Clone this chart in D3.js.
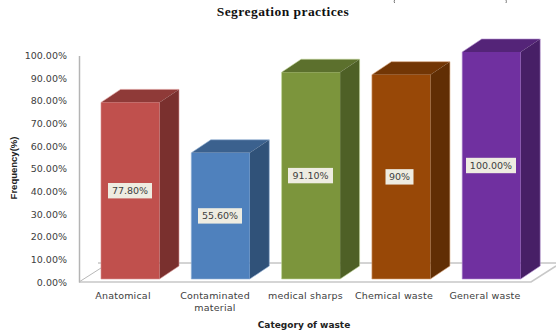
<!DOCTYPE html>
<html>
<head>
<meta charset="utf-8">
<script src="https://cdn.jsdelivr.net/npm/d3@7"></script>
<style>
html,body{margin:0;padding:0;background:#fff}
svg{display:block}
</style>
</head>
<body>
<script>
const categories = ["Anatomical", "Contaminated material", "medical sharps", "Chemical waste", "General waste"];
const categoryLines = [["Anatomical"], ["Contaminated", "material"], ["medical sharps"], ["Chemical waste"], ["General waste"]];
const values = [77.8, 55.6, 91.1, 90, 100];
const valueLabels = ["77.80%", "55.60%", "91.10%", "90%", "100.00%"];
const labelBoxWidths = [44, 44, 45, 28, 50];
const labelCenters = [130, 220, 310.5, 399.5, 491];
const frontColors = ["#c0504d", "#4f81bd", "#7c953c", "#984807", "#7030a0"];
const topColors = ["#8f3a38", "#3b618e", "#5c702d", "#723605", "#542478"];
const sideColors = ["#7a302e", "#305279", "#4e6026", "#612e04", "#471f66"];
const edgeColors = ["#d99694", "#95b3d7", "#c3d69b", "#d9a47a", "#b38fd0"];
const yTicks = [0, 10, 20, 30, 40, 50, 60, 70, 80, 90, 100];
const categoryCenters = [123, 215, 305.5, 394, 485];

const width = 556, height = 331;
const depthX = 19.5, depthY = 13;
const sans = "DejaVu Sans";

const svg = d3.select("body").append("svg")
  .attr("width", width).attr("height", height).attr("font-family", sans);

const xBand = d3.scaleBand().domain(categories).range([85.1, 536.6]).paddingInner(0.352).paddingOuter(0.176);
const yBar = d3.scaleLinear().domain([0, 100]).range([279, 52]);
const yAxis = d3.scaleLinear().domain([0, 100]).range([282, 55.5]);

// Floor and wall lines of the 3D plot area
const grid = svg.append("g").attr("fill", "none");
grid.append("path").attr("d", "M79,282L101,268").attr("stroke", "#b8b8b8").attr("stroke-width", 1);
grid.append("path").attr("d", "M98,263H556").attr("stroke", "#a8a8a8").attr("stroke-width", 1);
grid.append("path").attr("d", "M79,282H531L556,266").attr("stroke", "#c8c8c8").attr("stroke-width", 1.5);

// Value axis, labels only; the vertical rule is drawn by the axis domain
const axis = d3.axisLeft(yAxis).tickValues(yTicks).tickSize(0).tickPadding(12)
  .tickFormat(d => d3.format(".2f")(d) + "%");
const axisG = svg.append("g").attr("transform", "translate(79,0)").call(axis);
axisG.attr("font-family", sans);
axisG.select(".domain").attr("stroke", "#b4b4b4").attr("stroke-width", 1.5);
axisG.selectAll("text").attr("font-size", 9.5).attr("fill", "#404040");

// Bars: side and top faces first, front face over them
const bars = svg.append("g").selectAll("g").data(categories).join("g");
bars.each(function (c, i) {
  const g = d3.select(this);
  const x0 = xBand(c), x1 = x0 + xBand.bandwidth();
  const yT = yBar(values[i]), yB = yBar(0);
  g.append("polygon")
    .attr("points", [[x0, yT], [x0 + depthX, yT - depthY], [x1 + depthX, yT - depthY], [x1, yT]].join(" "))
    .attr("fill", topColors[i]);
  g.append("polygon")
    .attr("points", [[x1, yT], [x1 + depthX, yT - depthY], [x1 + depthX, yB - depthY], [x1, yB]].join(" "))
    .attr("fill", sideColors[i]);
  g.append("rect")
    .attr("x", x0).attr("y", yT).attr("width", x1 - x0).attr("height", yB - yT)
    .attr("fill", frontColors[i]);
  g.append("path")
    .attr("d", `M${x0},${yB}V${yT}L${x0 + depthX},${yT - depthY}H${x1 + depthX}V${yB - depthY}L${x1},${yB}Z`)
    .attr("fill", "none").attr("stroke", edgeColors[i]).attr("stroke-width", 0.8).attr("stroke-opacity", 0.75);
});

// Value labels on pale boxes, vertically centred on each bar
const labels = svg.append("g").selectAll("g").data(categories).join("g")
  .attr("transform", (c, i) => `translate(${labelCenters[i]},${(yBar(values[i]) + yBar(0)) / 2})`);
labels.append("rect")
  .attr("x", (c, i) => -labelBoxWidths[i] / 2).attr("y", -7.7)
  .attr("width", (c, i) => labelBoxWidths[i]).attr("height", 15.4)
  .attr("fill", "#eeece1");
labels.append("text")
  .attr("text-anchor", "middle").attr("dy", "0.35em")
  .attr("font-size", 9.5).attr("fill", "#404040")
  .text((c, i) => valueLabels[i]);

// Category labels
const catG = svg.append("g").selectAll("text").data(categories).join("text")
  .attr("text-anchor", "middle")
  .attr("font-size", 9.5).attr("letter-spacing", 0.2).attr("fill", "#404040")
  .attr("y", 298.5);
catG.each(function (c, i) {
  categoryLines[i].forEach((line, k) => {
    d3.select(this).append("tspan").attr("x", categoryCenters[i]).attr("dy", k ? 12.7 : 0).text(line);
  });
});

// Titles
svg.append("text").attr("x", 283).attr("y", 16).attr("text-anchor", "middle")
  .attr("font-family", "Liberation Serif").attr("font-weight", "bold").attr("font-size", 13.5).attr("letter-spacing", 0.45).attr("fill", "#111")
  .text("Segregation practices");
// Ends of the bracket strokes at the top edge
svg.append("path").attr("d", "M394.5,0Q393.8,1.5,394.6,3M506,0Q506.8,1.5,506,3")
  .attr("fill", "none").attr("stroke", "#666").attr("stroke-width", 0.9);
svg.append("text").attr("x", 304).attr("y", 327.5).attr("text-anchor", "middle")
  .attr("font-weight", "bold").attr("font-size", 9).attr("fill", "#222")
  .text("Category of waste");
svg.append("text").attr("transform", "translate(17,168) rotate(-90)").attr("text-anchor", "middle")
  .attr("font-family", "Liberation Sans").attr("font-weight", "bold").attr("font-size", 9.5).attr("fill", "#222")
  .text("Frequency(%)");
</script>
</body>
</html>
